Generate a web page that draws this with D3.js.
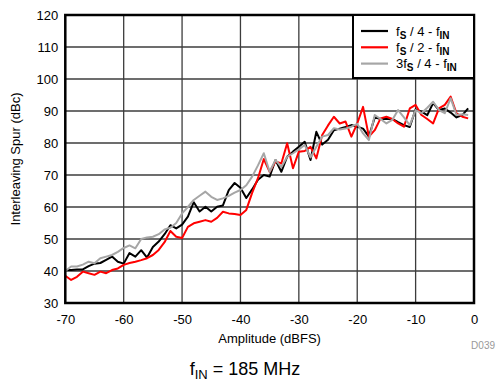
<!DOCTYPE html>
<html><head><meta charset="utf-8">
<script src="https://cdn.jsdelivr.net/npm/d3@7"></script>
<style>
body{margin:0;background:#fff;}
text{font-family:"Liberation Sans",Arial,sans-serif;}
</style></head>
<body>
<svg id="c" width="496" height="383"></svg>
<script>
const amplitude = d3.range(-70, 0, 1);
const fs4 = [40.3,40.3,40.5,40.5,41.5,42.3,42.5,43.5,44.5,42.9,42.3,45.6,44.5,46.5,44.2,47.5,49.2,51.5,54.3,53.3,54.5,57,61.5,58.6,60.1,58.6,60.1,60.5,65.3,67.5,66,62.8,65.5,68.5,70,69.5,74.7,71,75.7,77.3,78.8,80.4,74.7,83.5,79.5,81,84,84.5,85,85.6,85.1,84.5,82,88,87.5,87.5,87.5,86.5,85.6,85,90.5,89.8,88.7,92.5,90.3,90.8,89.5,88,88.7,90.8];
const fs2 = [38.5,37.2,38.2,39.8,39.3,38.8,39.8,39.3,40.3,40.8,41.9,42.5,42.9,43.4,44,45,46.6,49,52.5,50.7,50.3,53.8,54.9,55.4,55.9,55.4,56.6,58.5,58,57.8,57.5,59.1,64.4,69,75,71,74.2,73.6,79.9,72.1,77.3,77.5,78.8,75.2,82.5,85.5,88.2,86.1,86.7,82,86.1,91.3,82,84,87.7,88.2,87.5,86.1,85.1,90.8,91.9,88.75,87.5,86.1,90.8,91.9,94.5,89.3,88.2,87.7];
const fs34 = [40,41.4,41.4,42,42.9,42.4,44,44.5,45,46,47.2,48,47.1,50,50.5,50.7,51.5,53,53.5,55,58,60,62.2,63.5,64.8,63.2,62.2,62.7,63.5,64.5,65.3,66.8,69.5,73,76.8,71,74.7,72.5,75.7,76.8,78,79.4,75.5,78.8,82,82.5,84.6,84.2,84.5,85.1,86,83,80.9,88.75,87.5,86.1,87.2,90.3,88,85.6,90.3,89.3,91,92.9,90.3,89.3,94,88.75,89,88.75];
const xTicks = [-70,-60,-50,-40,-30,-20,-10,0];
const yTicks = [30,40,50,60,70,80,90,100,110,120];
const seriesNames = [["f","S"," / 4 - f","IN"],["f","S"," / 2 - f","IN"],["3f","S"," / 4 - f","IN"]];
const seriesColors = ["#000000","#ff0000","#a6a6a6"];
const seriesData = [fs4, fs2, fs34];

const svg = d3.select("#c");
const L = 65.3, R = 474, T = 15, B = 303;
const x = d3.scaleLinear().domain([-70,0]).range([L,R]);
const y = d3.scaleLinear().domain([30,120]).range([B,T]);

// grid
const g = svg.append("g");
g.selectAll(".vx").data(xTicks).enter().append("line")
  .attr("x1",d=>x(d)).attr("x2",d=>x(d)).attr("y1",T).attr("y2",B)
  .attr("stroke","#3c3c3c").attr("stroke-width",1.3);
g.selectAll(".hy").data(yTicks).enter().append("line")
  .attr("x1",L).attr("x2",R).attr("y1",d=>y(d)).attr("y2",d=>y(d))
  .attr("stroke","#3c3c3c").attr("stroke-width",1.3);

// axes labels via d3 axes
const xa = svg.append("g").attr("transform",`translate(0,${B})`)
  .call(d3.axisBottom(x).tickValues(xTicks).tickSize(0).tickPadding(12).tickFormat(d=>d===0?"0":d3.format("d")(d).replace("−","-")));
xa.select(".domain").remove();
xa.selectAll("text").attr("font-size",13).attr("fill","#000").style("font-family","'Liberation Sans',Arial,sans-serif");
const ya = svg.append("g").attr("transform",`translate(${L},0)`)
  .call(d3.axisLeft(y).tickValues(yTicks).tickSize(0).tickPadding(7));
ya.select(".domain").remove();
ya.selectAll("text").attr("font-size",13).attr("fill","#000").style("font-family","'Liberation Sans',Arial,sans-serif");

// lines
const line = d3.line().x((d,i)=>x(amplitude[i])).y(d=>y(d));
const plot = svg.append("g");
plot.append("clipPath").attr("id","cp").append("rect").attr("x",L).attr("y",T).attr("width",R-L).attr("height",B-T);
[0,1,2].forEach(k=>{
  plot.append("path").datum(seriesData[k]).attr("d",line).attr("fill","none")
    .attr("stroke",seriesColors[k]).attr("stroke-width",2).attr("stroke-linejoin","round")
    .attr("clip-path","url(#cp)");
});

// border
svg.append("rect").attr("x",L).attr("y",T).attr("width",R-L).attr("height",B-T)
  .attr("fill","none").attr("stroke","#000").attr("stroke-width",2.5);

// legend
const lg = svg.append("g");
lg.append("rect").attr("x",353).attr("y",T).attr("width",R-353).attr("height",63)
  .attr("fill","#fff").attr("stroke","#000").attr("stroke-width",2);
seriesNames.forEach((nm,i)=>{
  const yy = 31 + i*16.3;
  lg.append("line").attr("x1",361).attr("x2",388).attr("y1",yy).attr("y2",yy)
    .attr("stroke",seriesColors[i]).attr("stroke-width",2.2);
  const t = lg.append("text").attr("x",396).attr("y",yy+4.5).attr("font-size",13).attr("fill","#000");
  t.append("tspan").text(nm[0]);
  t.append("tspan").text(nm[1]).attr("font-size",10).attr("font-weight","bold").attr("dy",3);
  t.append("tspan").text(nm[2]).attr("dy",-3);
  t.append("tspan").text(nm[3]).attr("font-size",10).attr("font-weight","bold").attr("dy",3);
});

// titles
svg.append("text").attr("x",(L+R)/2).attr("y",343).attr("text-anchor","middle")
  .attr("font-size",13).text("Amplitude (dBFS)");
svg.append("text").attr("transform",`translate(20,${(T+B)/2}) rotate(-90)`).attr("text-anchor","middle")
  .attr("font-size",13).text("Interleaving Spur (dBc)");
svg.append("text").attr("x",495).attr("y",349).attr("text-anchor","end")
  .attr("font-size",10).attr("fill","#999").text("D039");
const cap = svg.append("text").attr("x",245).attr("y",375).attr("text-anchor","middle").attr("font-size",18);
cap.append("tspan").text("f");
cap.append("tspan").text("IN").attr("font-size",13).attr("dy",4);
cap.append("tspan").text(" = 185 MHz").attr("dy",-4);
</script>
</body></html>
